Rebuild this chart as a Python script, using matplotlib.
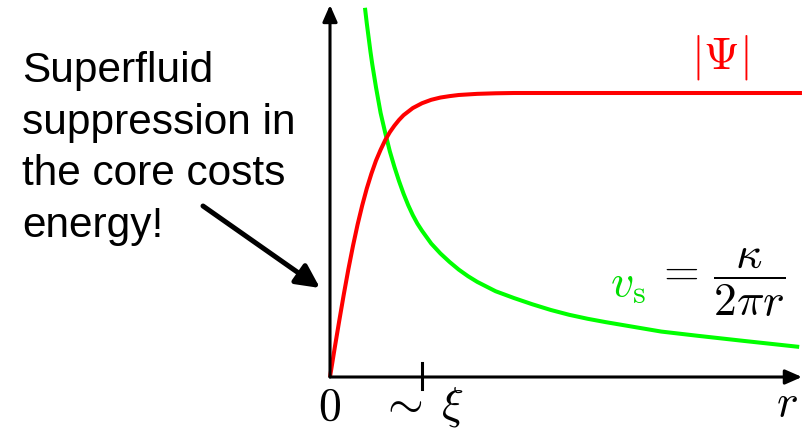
import matplotlib
matplotlib.use("Agg")
import matplotlib.pyplot as plt

plt.rcParams['mathtext.fontset'] = 'cm'

# Order parameter magnitude |Psi| versus radius r (r in units of xi)
r_psi = [0.0, 0.05, 0.1, 0.15, 0.2, 0.25, 0.3, 0.35, 0.4, 0.45, 0.5, 0.55,
         0.6, 0.65, 0.7, 0.75, 0.8, 0.9, 1.0, 1.1, 1.2, 1.3, 1.4, 1.6,
         1.8, 2.0, 2.5, 3.0, 4.0, 5.13]
psi = [0.0, 0.100, 0.197, 0.291, 0.380, 0.462, 0.537, 0.604, 0.664, 0.716,
       0.762, 0.800, 0.834, 0.862, 0.885, 0.905, 0.922, 0.947, 0.964, 0.976,
       0.984, 0.989, 0.993, 0.997, 0.999, 1.0, 1.0, 1.0, 1.0, 1.0]

# Superfluid velocity v_s versus radius r
r_vs = [0.38, 0.40, 0.42, 0.44, 0.46, 0.48, 0.5, 0.55, 0.6, 0.65, 0.7, 0.75,
        0.8, 0.85, 0.9, 0.95, 1.0, 1.1, 1.2, 1.3, 1.4, 1.5, 1.6, 1.8, 2.0,
        2.2, 2.4, 2.6, 2.8, 3.0, 3.2, 3.6, 4.0, 4.5, 5.1]
vs = [1.30, 1.245, 1.195, 1.145, 1.10, 1.06, 1.02, 0.93, 0.86, 0.795, 0.74,
      0.69, 0.645, 0.605, 0.57, 0.54, 0.515, 0.47, 0.435, 0.405, 0.378,
      0.355, 0.335, 0.302, 0.278, 0.256, 0.236, 0.219, 0.205, 0.193, 0.182,
      0.160, 0.145, 0.127, 0.106]

xi_tick = 1.0
r_axis_end = 5.13
y_axis_end = 1.31

note_lines = ["Superfluid", "suppression in", "the core costs", "energy!"]

W, H = 804, 431
fig = plt.figure(figsize=(W / 100, H / 100), dpi=100)
ax = fig.add_axes([0, 0, 1, 1])
x0, y0, sx, sy = 330, 378, 92.0, 284.0
ax.set_xlim(-x0 / sx, (W - x0) / sx)
ax.set_ylim(-(H - y0) / sy, y0 / sy)
ax.axis('off')

red = '#ff0000'
green = '#00ff00'

ax.plot(r_vs, vs, color=green, lw=2.9, solid_capstyle='butt', zorder=2)
ax.plot(r_psi, psi, color=red, lw=2.9, solid_capstyle='butt', zorder=3)

head = '-|>,head_length=0.5,head_width=0.22'
ax.annotate('', xy=(r_axis_end, 0), xytext=(0, 0),
            arrowprops=dict(arrowstyle=head, lw=2.2, color='k',
                            mutation_scale=20, shrinkA=0, shrinkB=0),
            zorder=4)
ax.annotate('', xy=(0, y_axis_end), xytext=(0, 0),
            arrowprops=dict(arrowstyle=head, lw=2.2, color='k',
                            mutation_scale=20, shrinkA=0, shrinkB=0),
            zorder=4)

# tick at the coherence length
ax.plot([xi_tick, xi_tick], [14 / sy, -12 / sy], color='k', lw=2.2, zorder=4)

ax.text(0, -29 / sy, r'$0$', fontsize=33, ha='center', va='center')
ax.text(xi_tick, -29 / sy, r'$\sim\;\xi$', fontsize=33, ha='center', va='center')
ax.text((787 - x0) / sx, -26 / sy, r'$r$', fontsize=33, ha='center', va='center')

ax.text((720 - x0) / sx, (y0 - 57) / sy, r'$|\Psi|$', fontsize=33,
        color=red, ha='center', va='center')
ax.text((646 - x0) / sx, (y0 - 284) / sy, r'$v_\mathrm{s}$', fontsize=33,
        color='#00dd00', ha='right', va='center')
ax.text((655 - x0) / sx, (y0 - 283) / sy, r'$=\,\dfrac{\kappa}{2\pi r}$',
        fontsize=33, color='k', ha='left', va='center')

for i, line in enumerate(note_lines):
    fig.text(22 / W, 1 - (82 + 51.7 * i) / H, line, fontsize=30.5,
             family='Liberation Sans', ha='left', va='baseline')

ax.annotate('', xy=((320 - x0) / sx, (y0 - 289) / sy),
            xytext=((203 - x0) / sx, (y0 - 207) / sy),
            arrowprops=dict(arrowstyle='-|>,head_length=0.7,head_width=0.35',
                            lw=3.6, color='k', mutation_scale=20,
                            shrinkA=0, shrinkB=0))

fig.savefig('out.png', dpi=100)
